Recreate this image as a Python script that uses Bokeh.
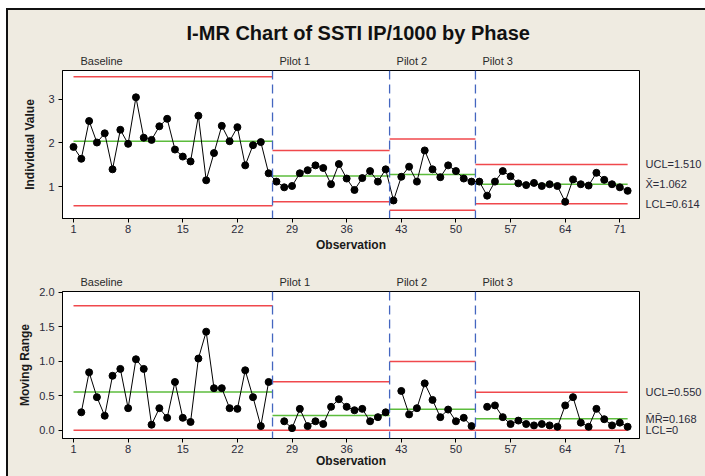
from bokeh.plotting import figure
from bokeh.models import Span, FixedTicker, Range1d, ColumnDataSource, LinearAxis
from bokeh.layouts import column
from bokeh.embed import file_html
from bokeh.resources import INLINE

NaN = float("nan")

# ---------------- data ----------------
observation = list(range(1, 73))

individual_value = [
    1.91, 1.64, 2.50, 2.01, 2.22, 1.40, 2.30, 1.98, 3.04, 2.12,
    2.07, 2.38, 2.55, 1.85, 1.69, 1.58, 2.62, 1.15, 1.77, 2.39,
    2.04, 2.36, 1.49, 1.95, 2.02, 1.31,
    1.12, 0.99, 1.02, 1.31, 1.38, 1.49, 1.43, 1.06, 1.52, 1.19,
    0.93, 1.20, 1.36, 1.12, 1.40,
    0.69, 1.23, 1.46, 1.12, 1.83, 1.40, 1.22, 1.49, 1.36, 1.19, 1.12,
    1.12, 0.80, 1.12, 1.36, 1.24, 1.08, 1.04, 1.09, 1.02, 1.06,
    1.02, 0.66, 1.17, 1.06, 1.03, 1.32, 1.16, 1.06, 0.99, 0.91,
]

moving_range = [
    NaN, 0.26, 0.84, 0.48, 0.21, 0.79, 0.89, 0.32, 1.03, 0.89,
    0.08, 0.32, 0.18, 0.70, 0.18, 0.12, 1.04, 1.43, 0.61, 0.61,
    0.32, 0.31, 0.87, 0.48, 0.06, 0.70,
    NaN, 0.13, 0.03, 0.31, 0.06, 0.13, 0.09, 0.34, 0.45, 0.34,
    0.29, 0.31, 0.13, 0.19, 0.26,
    NaN, 0.57, 0.23, 0.32, 0.68, 0.44, 0.19, 0.30, 0.13, 0.18, 0.06,
    NaN, 0.34, 0.36, 0.19, 0.09, 0.14, 0.09, 0.07, 0.09, 0.07,
    0.05, 0.36, 0.48, 0.11, 0.05, 0.31, 0.16, 0.07, 0.11, 0.05,
]

stage_names = ["Baseline", "Pilot 1", "Pilot 2", "Pilot 3"]
stage_first = [1, 27, 42, 53]
stage_last = [26, 41, 52, 72]

i_center = [2.04, 1.245, 1.28, 1.062]
i_ucl = [3.51, 1.83, 2.09, 1.510]
i_lcl = [0.57, 0.66, 0.47, 0.614]

mr_center = [0.553, 0.215, 0.305, 0.168]
mr_ucl = [1.806, 0.702, 0.996, 0.550]
mr_lcl = [0.0, 0.0, 0.0, 0.0]

x_ticks = [1, 8, 15, 22, 29, 36, 43, 50, 57, 64, 71]
i_ticks = [1, 2, 3]
mr_ticks = [0.0, 0.5, 1.0, 1.5, 2.0]
mr_tick_labels = ["0.0", "0.5", "1.0", "1.5", "2.0"]

i_limit_text = ["UCL=1.510", "X\u0304=1.062", "LCL=0.614"]
mr_limit_text = ["UCL=0.550", "M\u0304R\u0304=0.168", "LCL=0"]

title_text = "I-MR Chart of SSTI IP/1000 by Phase"

# ---------------- style ----------------
BEIGE = "#EFEBE1"
RED = "#F0484C"
GREEN = "#5CBC3C"
BLUE = "#4466C0"
FONT = "Liberation Sans"
TXT = "#2A2A3A"
X_RANGE = (-0.41, 73.52)

seg_x0 = [stage_first[0]] + [f - 0.5 for f in stage_first[1:]]
seg_x1 = [l + 0.5 for l in stage_last[:-1]] + [stage_last[-1]]
boundaries = [l + 0.5 for l in stage_last[:-1]]
# stage names are centred a little to the right of each stage start
name_shift = [3.6, 2.85, 2.85, 2.85]
stage_label_x = [x + s for x, s in zip(seg_x0, name_shift)]


def bare_axis(ax):
    ax.axis_line_color = None
    ax.major_tick_line_color = None
    ax.minor_tick_line_color = None
    ax.major_tick_out = 0
    ax.major_tick_in = 0
    ax.major_label_text_font = FONT
    ax.major_label_text_font_size = "11px"
    ax.major_label_text_color = TXT


def make_fig(height, y_range, border_top, border_bottom, yticks, ylabel,
             ylabel_standoff, xlabel_standoff, title=None):
    p = figure(width=697, height=height, output_backend="svg", toolbar_location=None,
               title=title, x_range=Range1d(*X_RANGE), y_range=Range1d(*y_range),
               min_border_left=54, min_border_right=66,
               min_border_top=border_top, min_border_bottom=border_bottom)
    p.background_fill_color = "white"
    p.border_fill_color = BEIGE
    p.outline_line_color = "black"
    p.outline_line_width = 1
    p.xgrid.visible = False
    p.ygrid.visible = False
    for ax in (p.xaxis[0], p.yaxis[0]):
        ax.axis_line_color = "black"
        ax.major_tick_line_color = "black"
        ax.major_tick_out = 4
        ax.major_tick_in = 0
        ax.minor_tick_line_color = None
        ax.major_label_text_font = FONT
        ax.major_label_text_font_size = "11px"
        ax.major_label_text_color = TXT
        ax.axis_label_text_font = FONT
        ax.axis_label_text_font_style = "bold"
        ax.axis_label_text_font_size = "12px"
        ax.axis_label_text_color = "#1A1A1A"
    p.xaxis[0].ticker = FixedTicker(ticks=x_ticks)
    p.xaxis[0].major_label_standoff = 2
    p.xaxis[0].axis_label = "Observation"
    p.xaxis[0].axis_label_standoff = xlabel_standoff
    p.yaxis[0].ticker = FixedTicker(ticks=yticks)
    p.yaxis[0].major_label_standoff = 4
    p.yaxis[0].axis_label = ylabel
    p.yaxis[0].axis_label_standoff = ylabel_standoff

    # stage names above the frame
    top_axis = LinearAxis(ticker=FixedTicker(ticks=stage_label_x),
                          major_label_overrides={x: n for x, n in zip(stage_label_x, stage_names)})
    bare_axis(top_axis)
    top_axis.major_label_standoff = 4
    top_axis.major_label_text_color = "#2A2A2A"
    p.add_layout(top_axis, "above")

    # stage boundaries
    for b in boundaries:
        p.add_layout(Span(location=b, dimension="height", line_color=BLUE,
                          line_width=1.3, line_dash="9 5"))
    return p


def add_limits(p, center, ucl, lcl):
    src = ColumnDataSource(dict(x0=seg_x0, x1=seg_x1, c=center, u=ucl, l=lcl))
    p.segment(x0="x0", x1="x1", y0="u", y1="u", source=src, line_color=RED, line_width=1.5)
    p.segment(x0="x0", x1="x1", y0="l", y1="l", source=src, line_color=RED, line_width=1.5)
    p.segment(x0="x0", x1="x1", y0="c", y1="c", source=src, line_color=GREEN, line_width=1.5)


def add_side_labels(p, texts, ys):
    ax = LinearAxis(ticker=FixedTicker(ticks=ys),
                    major_label_overrides={y: t for y, t in zip(ys, texts)})
    bare_axis(ax)
    ax.major_label_standoff = 6
    p.add_layout(ax, "right")


# ---------------- Individual chart ----------------
p1 = make_fig(252, (0.28, 3.65), 60, 44, i_ticks, "Individual Value", 8, 2,
              title=title_text)
p1.title.align = "left"
p1.title.offset = 124
p1.title.standoff = 15
p1.title.text_font = FONT
p1.title.text_font_style = "bold"
p1.title.text_font_size = "20px"
p1.title.text_color = "#111111"
add_limits(p1, i_center, i_ucl, i_lcl)
p1.line(observation, individual_value, line_color="black", line_width=1)
p1.scatter(observation, individual_value, marker="circle", size=7,
           fill_color="black", line_color="black")
add_side_labels(p1, i_limit_text, [i_ucl[-1], i_center[-1], i_lcl[-1]])

# ---------------- Moving range chart ----------------
p2 = make_fig(214, (-0.12, 2.013), 29, 38, mr_ticks, "Moving Range", 4, -2)
p2.yaxis[0].major_label_overrides = {t: s for t, s in zip(mr_ticks, mr_tick_labels)}
add_limits(p2, mr_center, mr_ucl, mr_lcl)
p2.line(observation, moving_range, line_color="black", line_width=1)
p2.scatter(observation, moving_range, marker="circle", size=7,
           fill_color="black", line_color="black")
add_side_labels(p2, mr_limit_text, [mr_ucl[-1], mr_center[-1], mr_lcl[-1]])

layout = column(p1, p2, spacing=0,
                styles={"border-top": "2px solid #111", "border-left": "2px solid #111",
                        "margin-top": "8px", "margin-left": "6px",
                        "background-color": BEIGE})

open("out.html", "w").write(file_html(layout, INLINE))
